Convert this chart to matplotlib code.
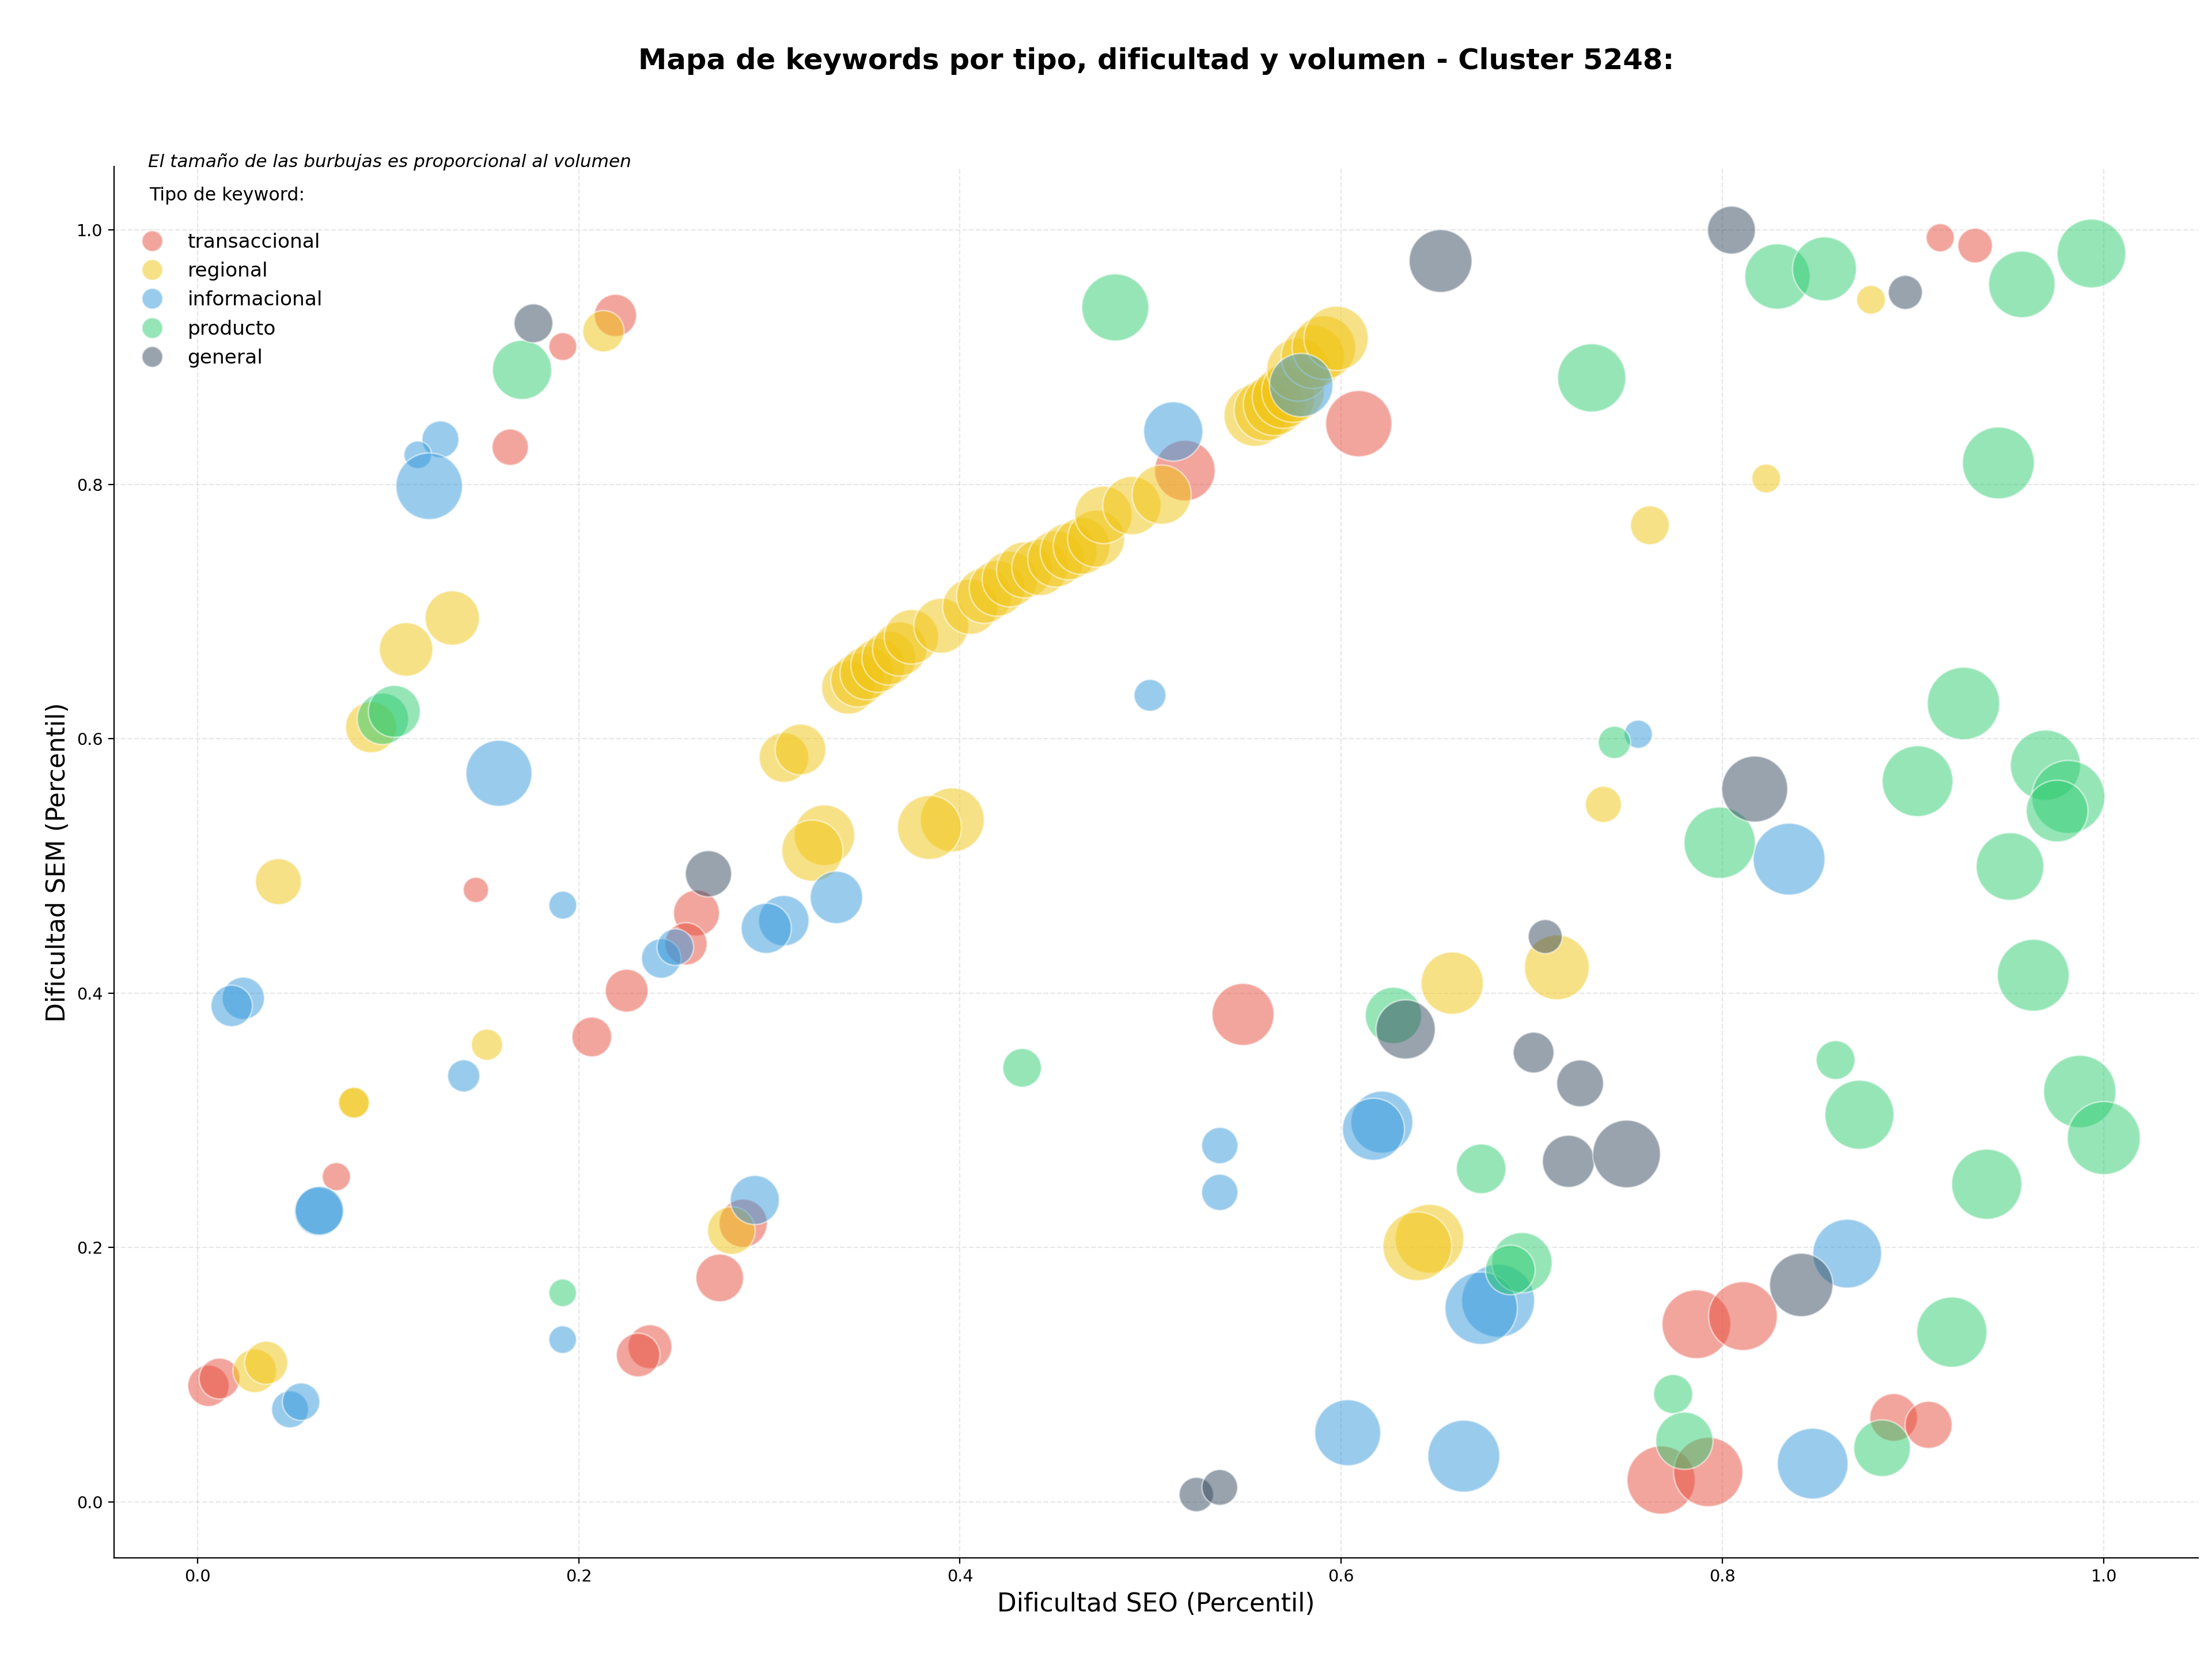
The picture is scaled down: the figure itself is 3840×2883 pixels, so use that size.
import matplotlib
matplotlib.use("Agg")
import matplotlib.pyplot as plt
from matplotlib.lines import Line2D

# ---- datos: dificultad SEO, dificultad SEM, volumen ----
trans_seo = [0.2193, 0.1917, 0.1641, 0.1461, 0.2618, 0.2563, 0.2252, 0.2069, 0.0729, 0.2863,
             0.2740, 0.2374, 0.2312, 0.0058, 0.0116, 0.5180, 0.6092, 0.5485, 0.9142, 0.9325,
             0.7863, 0.8107, 0.7678, 0.7925, 0.8898, 0.9081]
trans_sem = [0.9329, 0.9084, 0.8293, 0.4812, 0.4630, 0.4388, 0.4020, 0.3656, 0.2557, 0.2191,
             0.1761, 0.1220, 0.1155, 0.0913, 0.0970, 0.8109, 0.8478, 0.3833, 0.9940, 0.9878,
             0.1397, 0.1461, 0.0172, 0.0235, 0.0664, 0.0606]
trans_vol = [225, 98, 166, 81, 266, 225, 231, 199, 100, 292,
             286, 243, 240, 216, 210, 462, 552, 484, 100, 151,
             595, 595, 586, 605, 286, 279]

reg_seo = [0.2130, 0.1337, 0.1095, 0.0911, 0.0425, 0.1519, 0.0819, 0.0822, 0.2801, 0.0301,
           0.0361, 0.3077, 0.3164, 0.3289, 0.3226, 0.3960, 0.3840,
           0.3414, 0.3463, 0.3511, 0.3569, 0.3627, 0.3684, 0.3746, 0.3902, 0.4054, 0.4127,
           0.4195, 0.4262, 0.4339, 0.4420, 0.4503, 0.4570, 0.4638, 0.4714, 0.4753, 0.4902,
           0.5058, 0.5547, 0.5600, 0.5649, 0.5697, 0.5747, 0.5774, 0.5851, 0.5909, 0.5973,
           0.8779, 0.8229, 0.7619, 0.7375, 0.7131, 0.6582, 0.6463, 0.6399]
reg_sem = [0.9205, 0.6950, 0.6703, 0.6091, 0.4877, 0.3595, 0.3135, 0.3140, 0.2134, 0.1031,
           0.1094, 0.5853, 0.5916, 0.5242, 0.5121, 0.5363, 0.5303,
           0.6403, 0.6461, 0.6518, 0.6577, 0.6635, 0.6707, 0.6802, 0.6889, 0.7039, 0.7125,
           0.7183, 0.7256, 0.7328, 0.7348, 0.7415, 0.7473, 0.7516, 0.7574, 0.7761, 0.7834,
           0.7920, 0.8542, 0.8585, 0.8628, 0.8686, 0.8735, 0.8903, 0.9004, 0.9076, 0.9149,
           0.9452, 0.8047, 0.7679, 0.5484, 0.4203, 0.4079, 0.2069, 0.2010]
reg_vol = [216, 372, 361, 328, 266, 123, 119, 119, 286, 240,
           234, 310, 324, 462, 471, 515, 515,
           357, 361, 361, 365, 365, 370, 374, 380, 385, 385,
           390, 390, 395, 400, 400, 405, 405, 410, 415, 428,
           441, 480, 480, 485, 490, 495, 500, 505, 510, 520,
           104, 104, 190, 164, 529, 488, 595, 595]

info_seo = [0.1275, 0.1156, 0.1216, 0.1582, 0.1917, 0.0241, 0.0180, 0.1397, 0.0636, 0.0640,
            0.1916, 0.0486, 0.0544, 0.2433, 0.2507, 0.3076, 0.2984, 0.3352, 0.2924, 0.4997,
            0.5119, 0.5790, 0.5363, 0.5363, 0.6034, 0.6213, 0.6169, 0.6823, 0.6734, 0.7558,
            0.8349, 0.8654, 0.6643, 0.8473]
info_sem = [0.8354, 0.8233, 0.7986, 0.5729, 0.4692, 0.3960, 0.3900, 0.3350, 0.2283, 0.2290,
            0.1276, 0.0728, 0.0788, 0.4273, 0.4362, 0.4570, 0.4510, 0.4753, 0.2374, 0.6342,
            0.8417, 0.8781, 0.2802, 0.2434, 0.0544, 0.2986, 0.2930, 0.1582, 0.1523, 0.6036,
            0.5054, 0.1952, 0.0360, 0.0301]
info_vol = [172, 96, 557, 548, 98, 225, 216, 130, 296, 296,
            96, 172, 177, 196, 169, 320, 317, 346, 303, 128,
            441, 506, 166, 166, 548, 484, 484, 671, 660, 100,
            650, 595, 650, 630]

prod_seo = [0.1703, 0.0973, 0.1033, 0.1916, 0.4815, 0.4326, 0.6274, 0.6734, 0.6948, 0.6887,
            0.7314, 0.8288, 0.8535, 0.9570, 0.9935, 0.9447, 0.9264, 0.7433, 0.9023, 0.9694,
            0.9814, 0.9755, 0.7985, 0.9508, 0.9630, 0.8593, 0.8718, 0.9874, 1.0000, 0.9386,
            0.9203, 0.7741, 0.7800, 0.8837]
prod_sem = [0.8901, 0.6157, 0.6216, 0.1644, 0.9392, 0.3413, 0.3825, 0.2619, 0.1881, 0.1824,
            0.8838, 0.9635, 0.9695, 0.9573, 0.9816, 0.8169, 0.6278, 0.5972, 0.5667, 0.5793,
            0.5543, 0.5432, 0.5183, 0.4996, 0.4141, 0.3474, 0.3044, 0.3227, 0.2861, 0.2498,
            0.1335, 0.0848, 0.0481, 0.0422]
prod_vol = [441, 331, 339, 96, 566, 188, 400, 310, 458, 310,
            586, 538, 515, 557, 595, 650, 660, 132, 630, 620,
            671, 480, 640, 576, 650, 190, 600, 660, 671, 620,
            620, 193, 412, 404]

gen_seo = [0.1763, 0.2681, 0.6521, 0.8047, 0.8959, 0.8169, 0.7070, 0.6338, 0.7009,
           0.7253, 0.7192, 0.7497, 0.8413, 0.5240, 0.5363]
gen_sem = [0.9267, 0.4939, 0.9757, 1.0000, 0.9510, 0.5605, 0.4445, 0.3715, 0.3533,
           0.3291, 0.2678, 0.2736, 0.1706, 0.0058, 0.0114]
gen_vol = [190, 269, 497, 289, 146, 548, 146, 441, 210,
           276, 342, 576, 506, 149, 161]

tipos = ["transaccional", "regional", "informacional", "producto", "general"]
colores = {"transaccional": "#E74C3C", "regional": "#F1C40F", "informacional": "#3498DB",
           "producto": "#2ECC71", "general": "#34495E"}
datos = {
    "transaccional": (trans_seo, trans_sem, trans_vol),
    "regional": (reg_seo, reg_sem, reg_vol),
    "informacional": (info_seo, info_sem, info_vol),
    "producto": (prod_seo, prod_sem, prod_vol),
    "general": (gen_seo, gen_sem, gen_vol),
}

VOL_TO_S = 3.1  # area de la burbuja por unidad de volumen

W, H = 3840, 2883
fig = plt.figure(figsize=(W / 200, H / 200), dpi=200)
ax = fig.add_axes([198 / W, 179 / H, 3618 / W, 2415 / H])

for tipo in tipos:
    seo, sem, vol = datos[tipo]
    ax.scatter(seo, sem, s=[v * VOL_TO_S for v in vol], c=colores[tipo],
               alpha=0.5, edgecolors="white", linewidths=1)

ax.set_xlim(-0.0437, 1.0495)
ax.set_ylim(-0.0440, 1.0500)
ax.grid(True, linestyle="--", alpha=0.3)
ax.set_axisbelow(True)
for lado in ["top", "right"]:
    ax.spines[lado].set_visible(False)
ax.tick_params(labelsize=10.3)

ax.set_xlabel("Dificultad SEO (Percentil)", fontsize=15.8)
ax.set_ylabel("Dificultad SEM (Percentil)", fontsize=15.8)
ax.set_title("Mapa de keywords por tipo, dificultad y volumen - Cluster 5248:",
             fontsize=17.85, fontweight="bold", pad=61)

# nota y leyenda
ax.text(0.0163, 0.9995, "El tamaño de las burbujas es proporcional al volumen",
        transform=ax.transAxes, fontsize=11.2, style="italic", va="baseline")
ax.text(0.017, 0.979, "Tipo de keyword:", transform=ax.transAxes, fontsize=11.4, va="center")

handles = [Line2D([], [], marker="o", linestyle="none", markersize=13,
                  markerfacecolor=colores[t], markeredgecolor="white", alpha=0.5, label=t)
           for t in tipos]
ax.legend(handles=handles, loc="upper left", bbox_to_anchor=(0.0086, 0.9524),
          frameon=False, fontsize=12.4, borderaxespad=0, borderpad=0, labelspacing=0.5)

fig.savefig("out.png", dpi=200)
